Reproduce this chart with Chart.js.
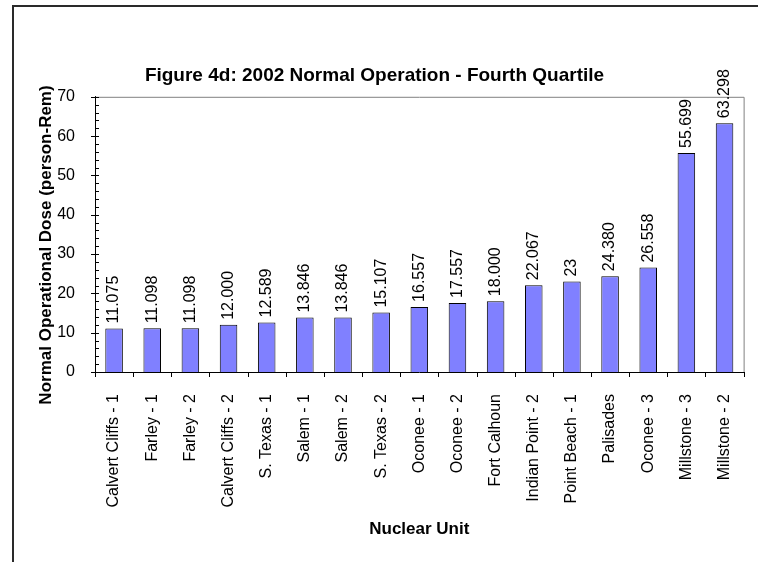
<!DOCTYPE html>
<html>
<head>
<meta charset="utf-8">
<script src="https://cdn.jsdelivr.net/npm/chart.js@4/dist/chart.umd.min.js"></script>
<style>
  html, body { margin: 0; padding: 0; background: #fff; }
</style>
</head>
<body>
<canvas id="chart" width="758" height="562"></canvas>
<script>
const units = [
    'Calvert Cliffs - 1', 'Farley - 1', 'Farley - 2', 'Calvert Cliffs - 2', 'S. Texas - 1',
    'Salem - 1', 'Salem - 2', 'S. Texas - 2', 'Oconee - 1', 'Oconee - 2', 'Fort Calhoun',
    'Indian Point - 2', 'Point Beach - 1', 'Palisades', 'Oconee - 3', 'Millstone - 3', 'Millstone - 2'
];
const doses = [11.075, 11.098, 11.098, 12.000, 12.589, 13.846, 13.846, 15.107, 16.557, 17.557,
    18.000, 22.067, 23, 24.380, 26.558, 55.699, 63.298];
const doseLabels = ['11.075', '11.098', '11.098', '12.000', '12.589', '13.846', '13.846', '15.107',
    '16.557', '17.557', '18.000', '22.067', '23', '24.380', '26.558', '55.699', '63.298'];
const yMin = 0, yMax = 70, yStep = 10, yMinorStep = 2;

const chartTitle = 'Figure 4d: 2002 Normal Operation - Fourth Quartile';
const yTitle = 'Normal Operational Dose (person-Rem)';
const xTitle = 'Nuclear Unit';

const FONT = 'Arial, "Liberation Sans", sans-serif';
Chart.defaults.font.family = FONT;
Chart.defaults.color = '#000';

// frame, plot border, tick marks, value labels, axis titles
const excelLook = {
    id: 'excelLook',
    afterDraw(chart) {
        const ctx = chart.ctx;
        const ca = chart.chartArea;
        const x = chart.scales.x, y = chart.scales.y;
        ctx.save();

        // outer chart frame (only top/left visible)
        ctx.fillStyle = '#2a2a2a';
        ctx.fillRect(12, 5, 2, 562 - 5);
        ctx.fillRect(12, 5, 758 - 12, 2);

        // plot area border top/right
        ctx.strokeStyle = '#808080';
        ctx.lineWidth = 1;
        ctx.beginPath();
        ctx.moveTo(ca.left, ca.top + 0.5);
        ctx.lineTo(ca.right + 0.5, ca.top + 0.5);
        ctx.lineTo(ca.right + 0.5, ca.bottom);
        ctx.stroke();

        // y ticks: major crossing, minor inside
        ctx.strokeStyle = '#000';
        ctx.beginPath();
        for (let v = yMin; v <= yMax; v += yMinorStep) {
            const py = Math.round(y.getPixelForValue(v)) + 0.5;
            const major = v % yStep === 0;
            ctx.moveTo(ca.left - (major ? 4 : 0), py);
            ctx.lineTo(ca.left + 4, py);
        }
        // x ticks between categories, outside
        const step = x.getPixelForValue(1) - x.getPixelForValue(0);
        for (let i = 0; i <= units.length; i++) {
            const px = Math.round(x.getPixelForValue(i) - step / 2) + 0.5;
            ctx.moveTo(px, ca.bottom);
            ctx.lineTo(px, ca.bottom + 5);
        }
        ctx.stroke();

        // value labels above bars, rotated
        ctx.fillStyle = '#000';
        ctx.font = '16px ' + FONT;
        ctx.textAlign = 'left';
        ctx.textBaseline = 'middle';
        chart.getDatasetMeta(0).data.forEach((bar, i) => {
            ctx.save();
            ctx.translate(bar.x, bar.y - 5);
            ctx.rotate(-Math.PI / 2);
            ctx.fillText(doseLabels[i], 0, 0);
            ctx.restore();
        });

        // axis titles
        ctx.font = 'bold 17px ' + FONT;
        ctx.textAlign = 'center';
        ctx.fillText(xTitle, (ca.left + ca.right) / 2, 529);
        ctx.save();
        ctx.translate(46, 245);
        ctx.rotate(-Math.PI / 2);
        ctx.fillText(yTitle, 0, 0);
        ctx.restore();
        ctx.restore();
    }
};

new Chart(document.getElementById('chart'), {
    type: 'bar',
    data: {
        labels: units,
        datasets: [{
            data: doses,
            backgroundColor: '#8080ff',
            borderColor: '#000',
            borderWidth: 1,
            barPercentage: 0.46,
            categoryPercentage: 1
        }]
    },
    options: {
        responsive: false,
        animation: false,
        devicePixelRatio: 1,
        layout: { padding: { left: 0, right: 9, top: 0, bottom: 0 } },
        scales: {
            x: {
                grid: { display: false },
                border: { display: true, color: '#000' },
                ticks: {
                    autoSkip: false, minRotation: 90, maxRotation: 90,
                    padding: 14, font: { size: 16 }, color: '#000'
                },
                afterFit(s) { s.height = 190; }
            },
            y: {
                min: yMin, max: yMax,
                grid: { display: false },
                border: { display: true, color: '#000' },
                ticks: { stepSize: yStep, padding: 12, font: { size: 16 }, color: '#000' },
                afterFit(s) { s.width = 95; }
            }
        },
        plugins: {
            legend: { display: false },
            tooltip: { enabled: false },
            title: {
                display: true, text: chartTitle,
                font: { size: 19, weight: 'bold' }, color: '#000',
                padding: { top: 64, bottom: 10 }
            }
        }
    },
    plugins: [excelLook]
});
</script>
</body>
</html>
